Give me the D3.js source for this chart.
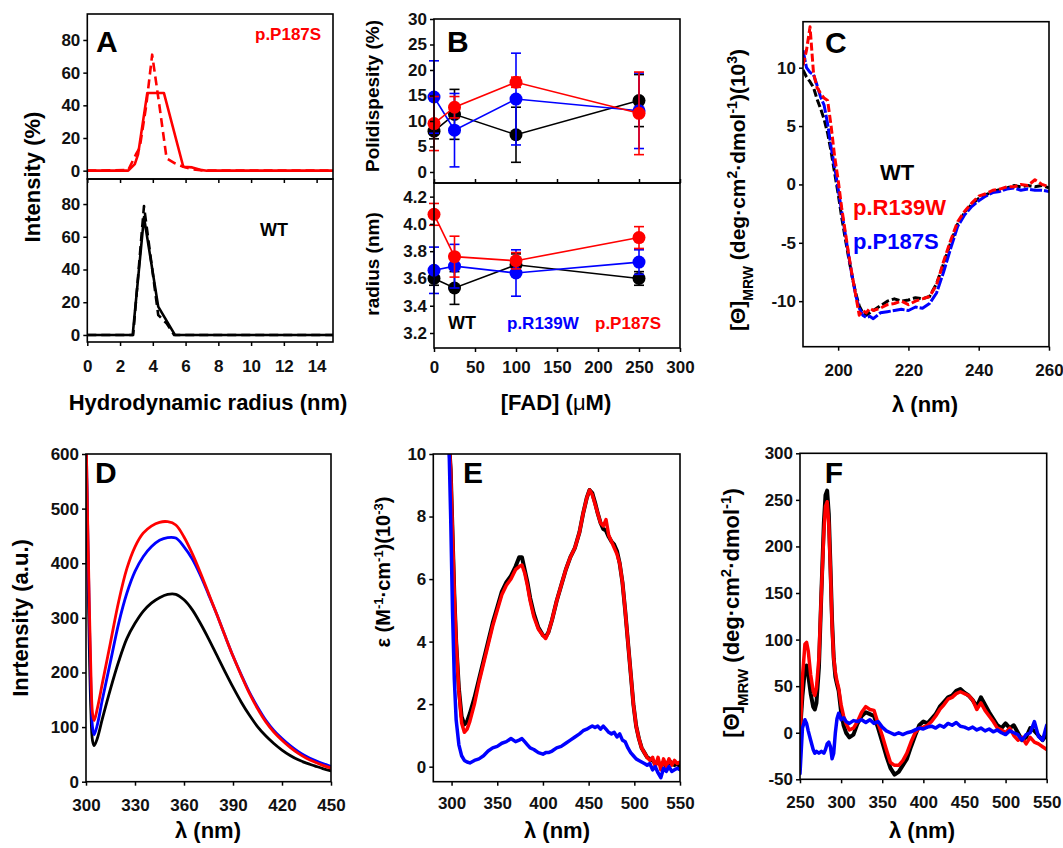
<!DOCTYPE html>
<html><head><meta charset="utf-8">
<script src="https://cdn.jsdelivr.net/npm/d3@7"></script>
<style>
body{margin:0;background:#fff}
svg{display:block}
text{font-family:"Liberation Sans",Arial,Helvetica,sans-serif;font-weight:bold}
</style>
</head><body>
<svg id="c" width="1063" height="848"></svg>
<script>
// ---------------- DATA ----------------
// Panel A: DLS size distributions (hydrodynamic radius nm vs intensity %)
const aX_P187S_solid = [0, 2.5, 2.9, 3.1, 3.66, 4.68, 5.86, 6.4, 6.9, 7.3, 15];
const aY_P187S_solid = [0, 0, 4, 10, 47.5, 47.5, 2.4, 2.0, 0.5, 0, 0];
const aX_P187S_dash = [0, 2.5, 3.0, 3.2, 3.6, 3.96, 4.4, 4.84, 5.35, 5.86, 6.4, 7.2, 15];
const aY_P187S_dash = [0, 0.4, 10.6, 14, 40, 71, 40, 7.6, 4.5, 2.4, 0.8, 0, 0];
const aX_WT_solid = [0, 2.77, 3.46, 4.33, 5.35, 15];
const aY_WT_solid = [0, 0, 72, 17.3, 0, 0];
const aX_WT_dash = [0, 2.8, 3.46, 4.33, 4.84, 5.3, 15];
const aY_WT_dash = [0, 0, 78.8, 12.2, 7.1, 0, 0];
const aXTicks = [0, 2, 4, 6, 8, 10, 12, 14];
const aYTicks = [0, 20, 40, 60, 80];

// Panel B: polydispersity and radius vs [FAD]
const fadConc = [0, 25, 100, 250];
const polyWT = [8.0, 11.3, 7.3, 14.0];
const polyWTErr = [1.5, 4.9, 5.4, 5.1];
const polyR139W = [14.7, 8.2, 14.3, 12.0];
const polyR139WErr = [7.1, 7.2, 9.0, 7.4];
const polyP187S = [9.5, 12.7, 17.6, 11.5];
const polyP187SErr = [5.3, 2.1, 1.0, 8.1];
const radWT = [3.60, 3.53, 3.70, 3.60];
const radWTErr = [0.05, 0.12, 0.08, 0.05];
const radR139W = [3.66, 3.69, 3.64, 3.72];
const radR139WErr = [0.17, 0.16, 0.17, 0.09];
const radP187S = [4.07, 3.76, 3.73, 3.90];
const radP187SErr = [0.08, 0.15, 0.06, 0.08];
const bXTicks = [0, 50, 100, 150, 200, 250, 300];
const bPolyTicks = [0, 5, 10, 15, 20, 25, 30];
const bRadTicks = [3.2, 3.4, 3.6, 3.8, 4.0, 4.2];

// Panel C: far-UV CD
const cWave = [190,191,192,193,194,195,196,197,198,199,200,201,202,203,204,205,206,207,208,209,210,212,214,216,218,220,222,224,226,228,230,232,234,236,238,240,242,244,246,248,250,252,254,256,258,260];
const cWT = [9.8,9.2,8.8,8.3,7.3,6.5,5.6,4.4,2.8,1.0,-0.8,-2.8,-4.6,-6.3,-7.9,-9.3,-10.4,-11.0,-11.2,-11.0,-10.8,-10.4,-10.0,-9.8,-10.0,-9.9,-9.7,-9.8,-9.6,-8.5,-6.8,-5.0,-3.4,-2.4,-1.7,-1.2,-0.9,-0.6,-0.45,-0.3,-0.1,-0.2,-0.1,-0.2,-0.1,-0.3];
const cR139W = [10.2,11.5,13.5,9.5,8.3,7.8,7.4,7.2,5.0,2.4,0.4,-2.0,-4.0,-6.0,-7.8,-9.5,-11.2,-10.8,-11.0,-10.6,-10.8,-10.6,-10.3,-10.2,-10.0,-10.3,-10.0,-9.8,-9.6,-8.6,-6.6,-4.8,-3.2,-2.3,-1.6,-1.0,-0.8,-0.5,-0.4,-0.2,-0.2,0.0,-0.1,0.4,0.0,-0.2];
const cP187S = [11.5,10.0,9.6,9.4,8.5,7.5,6.8,5.2,3.2,1.5,-0.4,-2.3,-4.2,-6.1,-7.9,-9.5,-10.6,-11.2,-11.4,-11.3,-11.5,-11.0,-10.9,-10.8,-10.7,-10.8,-10.5,-10.6,-10.2,-9.3,-7.5,-5.5,-3.6,-2.6,-1.9,-1.4,-1.0,-0.7,-0.6,-0.4,-0.3,-0.5,-0.4,-0.5,-0.5,-0.6];
const cXTicks = [200, 220, 240, 260];
const cYTicks = [-10, -5, 0, 5, 10];

// Panel D: intrinsic fluorescence
const dWave = [300,301,302,303,304,305,307,310,315,320,325,330,335,340,345,350,355,360,365,370,375,380,385,390,395,400,405,410,415,420,425,430,435,440,445,450];
const dWT = [650,420,250,130,75,66,80,115,170,220,262,290,312,327,337,343,343,333,315,290,262,232,202,173,146,122,101,84,70,58,48,40,34,29,24,20];
const dR139W = [650,470,310,170,100,86,105,150,220,290,345,385,412,430,442,447,446,430,408,378,343,307,268,230,196,164,137,113,94,79,66,55,46,39,33,28];
const dP187S = [650,480,330,200,125,112,135,180,255,330,390,430,455,468,475,476,470,448,418,383,345,307,268,230,195,162,134,110,91,76,63,52,43,36,30,25];
const dXTicks = [300, 330, 360, 390, 420, 450];
const dYTicks = [0, 100, 200, 300, 400, 500, 600];

// Panel E: UV-vis absorption
const eWave = [297,299,301,303,305,308,311,314,317,320,325,330,335,340,345,350,355,360,365,370,374,377,380,383,386,390,395,400,403,406,410,415,420,425,430,435,440,444,448,451,454,457,460,463,466,469,472,475,478,481,484,487,490,493,496,499,502,505,508,511,514,517,520,523,526,529,532,535,538,541,544,547,550];
const eWT = [10.5,9.5,7.5,5.5,4.0,2.5,1.6,1.35,1.45,1.7,2.2,2.8,3.4,4.0,4.6,5.1,5.6,5.9,6.1,6.4,6.7,6.7,6.3,5.9,5.4,4.9,4.45,4.2,4.15,4.3,4.7,5.3,5.8,6.3,6.7,7.0,7.5,8.1,8.6,8.85,8.75,8.45,8.1,7.8,7.6,7.55,7.35,7.2,7.1,6.9,6.5,5.9,5.0,4.0,3.0,2.0,1.3,0.9,0.6,0.45,0.3,0.25,0.2,0.1,0.15,0.05,0.15,0.0,0.2,0.1,0.05,0.1,0.0];
const eP187S = [10.5,9.5,7.5,5.5,4.0,2.4,1.4,1.1,1.2,1.45,2.0,2.7,3.3,3.9,4.5,5.0,5.5,5.8,6.0,6.3,6.4,6.45,6.2,5.8,5.3,4.8,4.4,4.2,4.1,4.3,4.7,5.3,5.8,6.3,6.7,7.0,7.5,8.1,8.6,8.85,8.7,8.4,8.1,7.8,7.7,7.9,7.4,7.2,7.0,6.8,6.5,5.9,5.0,4.0,3.0,2.0,1.3,0.9,0.6,0.45,0.3,0.2,0.3,0.0,0.3,-0.1,0.25,0.0,0.25,0.05,0.2,0.1,0.15];
const eR139W = [10.5,8.0,5.0,2.8,1.5,0.7,0.35,0.2,0.15,0.12,0.2,0.25,0.35,0.5,0.6,0.65,0.75,0.8,0.9,0.8,0.85,0.9,0.8,0.7,0.6,0.55,0.45,0.4,0.45,0.45,0.5,0.6,0.65,0.75,0.85,0.95,1.05,1.15,1.2,1.25,1.3,1.25,1.3,1.2,1.3,1.2,1.1,1.05,1.1,0.95,1.05,0.85,0.8,0.6,0.45,0.35,0.25,0.2,0.15,0.1,0.05,0.1,-0.1,0.0,-0.2,-0.35,-0.05,-0.15,0.0,-0.15,-0.1,-0.05,-0.1];
const eXTicks = [300, 350, 400, 450, 500, 550];
const eYTicks = [0, 2, 4, 6, 8, 10];

// Panel F: near-UV/visible CD
const fWave = [250,253,256,258,260,263,266,268,270,273,276,279,281,283,285,287,289,291,293,295,297,300,303,306,310,315,320,325,330,335,340,345,350,355,360,365,370,375,380,385,390,395,400,405,410,415,420,425,430,435,440,445,450,455,460,465,470,475,480,485,490,495,500,505,510,515,520,525,530,535,540,545,550];
const fWT = [0,40,68,72,62,42,28,25,32,70,150,225,255,260,235,180,120,80,60,52,45,22,8,0,-5,-2,10,18,22,20,18,5,-10,-25,-38,-45,-42,-35,-28,-15,-3,8,12,10,15,20,28,33,38,40,45,47,43,40,35,28,38,30,22,15,8,5,10,5,8,0,-8,-5,5,2,-3,-8,-2];
const fP187S = [-10,60,95,97,88,62,45,40,48,80,150,215,243,248,225,175,115,80,65,55,48,30,18,10,3,5,12,22,28,25,24,10,-3,-18,-32,-35,-35,-30,-22,-10,0,5,6,8,12,18,25,30,36,38,42,44,42,40,35,25,32,24,18,12,5,3,0,5,-3,-8,-5,-12,-5,-10,-12,-15,-18];
const fR139W = [-44,5,14,10,2,-8,-18,-22,-20,-22,-20,-22,-18,-12,-10,-15,-28,-22,0,15,21,14,16,12,10,13,12,14,11,14,10,12,6,2,0,-2,0,-2,0,1,3,5,4,6,7,5,8,6,10,8,11,7,6,4,6,3,5,2,4,1,3,0,-2,2,0,-2,-8,-2,0,12,-4,-8,8];
const fXTicks = [250, 300, 350, 400, 450, 500, 550];
const fYTicks = [-50, 0, 50, 100, 150, 200, 250, 300];

const BLACK = "#000000", RED = "#ff0000", BLUE = "#0000ff";

// ---------------- HELPERS ----------------
const svg = d3.select("#c");
const FONT = '"Liberation Sans",Arial,Helvetica,sans-serif';
const TICK_FS = 17;
let clipId = 0;

function frame(x0, y0, x1, y1) {
  svg.append("rect").attr("x", x0).attr("y", y0).attr("width", x1 - x0).attr("height", y1 - y0)
    .attr("fill", "none").attr("stroke", "#000").attr("stroke-width", 1.6);
}
function clip(x0, y0, x1, y1) {
  const id = "clip" + (clipId++);
  svg.append("clipPath").attr("id", id).append("rect")
    .attr("x", x0).attr("y", y0).attr("width", x1 - x0).attr("height", y1 - y0);
  return svg.append("g").attr("clip-path", `url(#${id})`);
}
function styleAxis(g, fs) {
  g.select(".domain").remove();
  g.selectAll("line").attr("stroke", "#000").attr("stroke-width", 1.5);
  g.selectAll("text").attr("font-size", fs || TICK_FS).attr("font-weight", "bold")
    .attr("font-family", FONT).attr("fill", "#111");
}
function yAxis(scale, x, ticks, fmt) {
  const g = svg.append("g").attr("transform", `translate(${x},0)`)
    .call(d3.axisLeft(scale).tickValues(ticks).tickSize(4).tickPadding(3)
      .tickFormat(fmt || (d => String(d))));
  styleAxis(g);
  return g;
}
function xAxis(scale, y, ticks, pad, showLabels = true, dir = 1) {
  const ax = (dir > 0 ? d3.axisBottom(scale) : d3.axisTop(scale)).tickValues(ticks).tickSize(4).tickPadding(pad)
    .tickFormat(showLabels ? (d => String(d)) : () => "");
  const g = svg.append("g").attr("transform", `translate(0,${y})`).call(ax);
  styleAxis(g);
  return g;
}
function text(x, y, str, opts = {}) {
  const t = svg.append("text").attr("x", x).attr("y", y).text(str)
    .attr("font-size", opts.size || 22).attr("fill", opts.color || "#000")
    .attr("text-anchor", opts.anchor || "start").attr("font-family", FONT).attr("font-weight", "bold");
  return t;
}
function vLabel(cx, cy, size) {
  return svg.append("text").attr("transform", `translate(${cx},${cy}) rotate(-90)`)
    .attr("text-anchor", "middle").attr("dy", "0.35em")
    .attr("font-size", size).attr("font-family", FONT).attr("font-weight", "bold").attr("fill", "#000");
}
function drawLine(g, xs, ys, xS, yS, color, width, dash, curve) {
  const data = xs.map((x, i) => [x, ys[i]]);
  g.append("path").datum(data)
    .attr("d", d3.line().x(d => xS(d[0])).y(d => yS(d[1])).curve(curve || d3.curveLinear))
    .attr("fill", "none").attr("stroke", color).attr("stroke-width", width)
    .attr("stroke-linejoin", "round").attr("stroke-linecap", dash ? "butt" : "round")
    .attr("stroke-dasharray", dash || null);
}

// ---------------- PANEL A ----------------
{
  const L = 87.3, R = 333, T = 14, M = 179, B = 342;
  const x = d3.scaleLinear().domain([0, 15]).range([L, R]);
  const yU = d3.scaleLinear().domain([-5.1, 95.9]).range([M, T]);
  const yL = d3.scaleLinear().domain([-4.3, 95.3]).range([B, M]);
  const gU = clip(L, T, R, M);
  drawLine(gU, aX_P187S_solid, aY_P187S_solid, x, yU, RED, 2.6);
  drawLine(gU, aX_P187S_dash, aY_P187S_dash, x, yU, RED, 2.6, "9,5");
  const gL = clip(L, M, R, B);
  drawLine(gL, aX_WT_solid, aY_WT_solid, x, yL, BLACK, 2.6);
  drawLine(gL, aX_WT_dash, aY_WT_dash, x, yL, BLACK, 2.6, "9,5");
  frame(L, T, R, M);
  frame(L, M, R, B);
  yAxis(yU, L, aYTicks);
  yAxis(yL, L, aYTicks);
  xAxis(x, M, aXTicks, 0, false);
  xAxis(x, B, aXTicks, 14);
  text(96, 52, "A", { size: 30 });
  text(255, 40, "p.P187S", { size: 17, color: RED });
  text(260, 236, "WT", { size: 18 });
  vLabel(32, 177, 22).text("Intensity (%)");
  text(208, 410, "Hydrodynamic radius (nm)", { anchor: "middle", size: 22 });
}

// ---------------- PANEL B ----------------
{
  const L = 434, R = 680, T = 19, M = 183, B = 348;
  const x = d3.scaleLinear().domain([0, 300]).range([L, R]);
  const yU = d3.scaleLinear().domain([-2.16, 30]).range([M, T]);
  const yL = d3.scaleLinear().domain([3.09, 4.3]).range([B, M]);
  const series = [
    { u: polyWT, ue: polyWTErr, l: radWT, le: radWTErr, c: BLACK },
    { u: polyR139W, ue: polyR139WErr, l: radR139W, le: radR139WErr, c: BLUE },
    { u: polyP187S, ue: polyP187SErr, l: radP187S, le: radP187SErr, c: RED }
  ];
  const gU = svg.append("g"), gL = svg.append("g");
  function drawSeries(g, vals, errs, yS, c) {
    const pts = fadConc.map((f, i) => [f, vals[i], errs[i]]);
    g.append("path").datum(pts)
      .attr("d", d3.line().x(d => x(d[0])).y(d => yS(d[1])))
      .attr("fill", "none").attr("stroke", c).attr("stroke-width", 1.6);
    const eb = g.append("g").attr("stroke", c).attr("stroke-width", 1.6);
    pts.forEach(d => {
      eb.append("line").attr("x1", x(d[0])).attr("x2", x(d[0])).attr("y1", yS(d[1] - d[2])).attr("y2", yS(d[1] + d[2]));
      [d[1] - d[2], d[1] + d[2]].forEach(v => eb.append("line")
        .attr("x1", x(d[0]) - 5).attr("x2", x(d[0]) + 5).attr("y1", yS(v)).attr("y2", yS(v)));
    });
    g.selectAll(null).data(pts).enter().append("circle")
      .attr("cx", d => x(d[0])).attr("cy", d => yS(d[1])).attr("r", 6.5).attr("fill", c);
  }
  series.forEach(s => {
    drawSeries(gU, s.u, s.ue, yU, s.c);
    drawSeries(gL, s.l, s.le, yL, s.c);
  });
  frame(L, T, R, M);
  frame(L, M, R, B);
  yAxis(yU, L, bPolyTicks);
  yAxis(yL, L, bRadTicks, d => d.toFixed(1));
  xAxis(x, M, bXTicks, 0, false, -1);
  xAxis(x, B, bXTicks, 9);
  text(447, 52, "B", { size: 30 });
  text(448, 329, "WT", { size: 18 });
  text(507, 329, "p.R139W", { size: 17, color: BLUE });
  text(595, 329, "p.P187S", { size: 17, color: RED });
  vLabel(372, 96, 19).text("Polidispesity (%)");
  vLabel(372, 264, 19).text("radius (nm)");
  const fl = text(556, 410, "[FAD] (", { anchor: "middle", size: 22 });
  fl.append("tspan").attr("font-weight", "normal").text("μ");
  fl.append("tspan").text("M)");
}

// ---------------- PANEL C ----------------
{
  const L = 803, R = 1049, T = 21.7, B = 346.7;
  const x = d3.scaleLinear().domain([190, 260]).range([L, R]);
  const y = d3.scaleLinear().domain([-13.9, 13.94]).range([B, T]);
  const g = clip(L, T, R, B);
  drawLine(g, cWave, cWT, x, y, BLACK, 3, "8,3");
  drawLine(g, cWave, cP187S, x, y, BLUE, 3, "12,2");
  drawLine(g, cWave, cR139W, x, y, RED, 3, "8,3");
  frame(L, T, R, B);
  yAxis(y, L, cYTicks);
  xAxis(x, B, cXTicks, 13);
  text(825, 53, "C", { size: 30 });
  text(880, 180, "WT", { size: 22 });
  text(853, 215, "p.R139W", { size: 22, color: RED });
  text(853, 249, "p.P187S", { size: 22, color: BLUE });
  const yl = vLabel(738, 190, 21);
  yl.append("tspan").text("[Θ]");
  yl.append("tspan").attr("font-size", 14).attr("baseline-shift", "sub").text("MRW");
  yl.append("tspan").text(" (deg·cm");
  yl.append("tspan").attr("font-size", 14).attr("baseline-shift", "super").text("2");
  yl.append("tspan").text("·dmol");
  yl.append("tspan").attr("font-size", 14).attr("baseline-shift", "super").text("-1");
  yl.append("tspan").text(")(10");
  yl.append("tspan").attr("font-size", 14).attr("baseline-shift", "super").text("3");
  yl.append("tspan").text(")");
  text(925, 412, "λ (nm)", { anchor: "middle", size: 22 });
}

// ---------------- PANEL D ----------------
{
  const L = 86, R = 331, T = 454, B = 781.7;
  const x = d3.scaleLinear().domain([300, 450]).range([L, R]);
  const y = d3.scaleLinear().domain([0, 600]).range([B, T]);
  const g = clip(L, T, R, B);
  const cv = d3.curveCatmullRom;
  drawLine(g, dWave, dWT, x, y, BLACK, 2.8, null, cv);
  drawLine(g, dWave, dR139W, x, y, BLUE, 2.8, null, cv);
  drawLine(g, dWave, dP187S, x, y, RED, 2.8, null, cv);
  frame(L, T, R, B);
  yAxis(y, L, dYTicks);
  xAxis(x, B, dXTicks, 13);
  text(95, 483, "D", { size: 30 });
  vLabel(20, 618, 22).text("Inrtensity (a.u.)");
  text(208, 838, "λ (nm)", { anchor: "middle", size: 22 });
}

// ---------------- PANEL E ----------------
{
  const L = 433.3, R = 680, T = 454, B = 781.7;
  const x = d3.scaleLinear().domain([280, 550]).range([L, R]);
  const y = d3.scaleLinear().domain([-0.48, 10]).range([B, T]);
  const g = clip(L, T, R, B);
  drawLine(g, eWave, eWT, x, y, BLACK, 4);
  drawLine(g, eWave, eP187S, x, y, RED, 3.5);
  drawLine(g, eWave, eR139W, x, y, BLUE, 3.5);
  frame(L, T, R, B);
  yAxis(y, L, eYTicks);
  xAxis(x, B, eXTicks, 11);
  text(463, 483, "E", { size: 30 });
  const yl = vLabel(383, 572, 20);
  yl.append("tspan").text("ε (M");
  yl.append("tspan").attr("font-size", 13).attr("baseline-shift", "super").text("-1");
  yl.append("tspan").text("·cm");
  yl.append("tspan").attr("font-size", 13).attr("baseline-shift", "super").text("-1");
  yl.append("tspan").text(")(10");
  yl.append("tspan").attr("font-size", 13).attr("baseline-shift", "super").text("-3");
  yl.append("tspan").text(")");
  text(557, 838, "λ (nm)", { anchor: "middle", size: 22 });
}

// ---------------- PANEL F ----------------
{
  const L = 800, R = 1046.7, T = 453.3, B = 779.3;
  const x = d3.scaleLinear().domain([250, 550]).range([L, R]);
  const y = d3.scaleLinear().domain([-50, 300]).range([B, T]);
  const g = clip(L, T, R, B);
  drawLine(g, fWave, fWT, x, y, BLACK, 4);
  drawLine(g, fWave, fP187S, x, y, RED, 3.5);
  drawLine(g, fWave, fR139W, x, y, BLUE, 3.5);
  frame(L, T, R, B);
  yAxis(y, L, fYTicks);
  xAxis(x, B, fXTicks, 13);
  text(834, 483, "F", { size: 30, anchor: "middle" });
  const yl = vLabel(731, 613, 22);
  yl.append("tspan").text("[Θ]");
  yl.append("tspan").attr("font-size", 15).attr("baseline-shift", "sub").text("MRW");
  yl.append("tspan").text(" (deg·cm");
  yl.append("tspan").attr("font-size", 15).attr("baseline-shift", "super").text("2");
  yl.append("tspan").text("·dmol");
  yl.append("tspan").attr("font-size", 15).attr("baseline-shift", "super").text("-1");
  yl.append("tspan").text(")");
  text(922, 838, "λ (nm)", { anchor: "middle", size: 22 });
}
</script>
</body></html>
